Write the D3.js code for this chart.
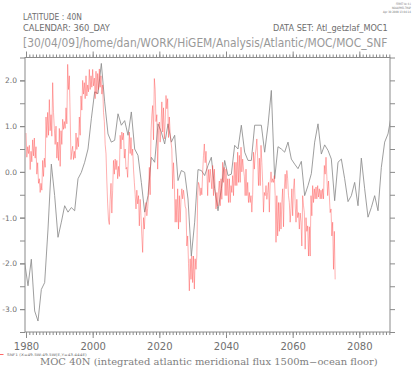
<!DOCTYPE html>
<html>
<head>
<meta charset="utf-8">
<script src="https://cdn.jsdelivr.net/npm/d3@7"></script>
<style>
  html, body { margin: 0; padding: 0; background: #fff; }
  svg { display: block; }
</style>
</head>
<body>
<svg id="chart" width="414" height="368" font-family="DejaVu Sans, sans-serif" fill="#6e6e6e"></svg>
<script>
// ---------------- data ----------------
// Annual series (gray), one value per year starting at grayStart
const grayStart = 1979.6;
const grayValues = [
  -1.98, -2.49, -1.91, -3.04, -3.26, -2.57, -2.42, -1.25, 0.17, -0.52,
  -1.43, -1.10, -0.74, -0.88, -0.78, -0.85, -0.15, -0.01, 0.21, 0.50,
  1.16, 1.75, 1.71, 2.37, 1.53, 0.83, 0.65, 0.69, 1.27, 1.02,
  1.12, 0.80, 1.31, 0.50, 0.36, -0.23, -0.88, -0.52, 0.32, 0.21,
  1.05, 0.87, 0.61, 1.05, 0.65, 0.80, -0.19, 0.03, -0.01, -0.59,
  -1.84, -1.10, 0.05, 0.03, -0.08, 0.14, 0.32, -0.37, -0.85, -0.37,
  0.25, -0.08, -0.05, 0.58, 0.50, 1.02, 0.43, 0.25, 0.25, 1.02,
  1.02, 1.02, 0.43, 1.02, 1.78, -0.15, 0.55, 0.50, 0.43, 0.65,
  0.28, 0.17, 0.07, 0.23, -0.52, -0.30, -0.04, 0.65, 1.05, 0.39,
  0.59, 0.47, 0.28, -0.63, 0.21, 0.28, -0.15, -0.65, -0.52, -0.23,
  -0.74, 0.30, -0.37, -0.99, -0.78, -0.52, -0.85, 0.10, 0.65, 0.83,
  1.24
];
// Quarterly series (red), four values per year starting 1980
const redStart = 1980;
const redPerYear = 4;
const redValues = [
  0.85, 0.32, 0.55, 0.40,   // 1980
  0.58, 0.05, 0.45, 0.22,
  0.70, 0.35, 0.74, 0.30,
  0.55, -0.05, 0.20, -0.25,
  -0.15, -0.45, -0.25, -0.40,
  0.25, -0.10, 0.30, 0.10,
  1.20, 0.75, 1.30, 0.80,
  1.58, 0.90, 1.25, 0.78,
  1.95, 1.30, 0.95, 0.60,
  1.00, 0.30, 0.65, 0.25,
  0.95, 0.12, 0.90, 0.60,   // 1990
  1.15, 0.93, 1.10, 0.95,
  1.40, 1.05, 2.35, 1.80,
  2.10, 1.22, 0.27, 0.45,
  0.56, 0.27, 0.45, 0.30,
  0.85, 0.49, 0.75, 0.55,
  1.20, 0.80, 1.66, 1.35,
  2.00, 1.70, 1.95, 1.60,
  2.10, 1.66, 1.90, 1.75,
  2.24, 1.80, 2.10, 1.85,
  2.24, 1.88, 2.05, 1.60,   // 2000
  2.20, 1.70, 2.15, 1.80,
  2.25, 1.85, 2.10, 1.70,
  1.90, 1.30, 1.10, 0.60,
  0.40, -0.20, -0.70, -1.05,
  -1.15, -0.60, -0.25, -0.90,
  -0.40, 0.25, -0.05, 0.28,
  0.05, 0.25, -0.15, 0.12,
  -0.10, 0.80, 0.50, 0.87,
  0.70, 0.85, 0.30, 0.50,
  0.06, 0.10, -0.12, 0.40,  // 2010
  0.87, 0.40, 0.75, 0.36,
  0.50, 0.06, -0.23, -0.50,
  -0.81, -0.40, -0.70, -0.52,
  -1.18, -0.60, -0.96, -1.40,
  -1.76, -1.00, -1.25, -0.88,
  -0.67, -0.96, -0.80, -0.50,
  0.10, -0.50, 0.87, 1.24,
  1.45, 0.70, 2.04, 1.80,
  1.10, 1.25, 0.06, 0.90,
  1.09, 0.65, 1.00, 1.53,   // 2020
  0.87, 1.40, 0.72, 1.09,
  1.67, 1.38, 1.60, 0.75,
  1.20, 0.85, 0.65, 0.50,
  -0.37, 0.20, -0.23, -1.10,
  -0.60, -1.10, -0.37, -1.25,
  -0.52, -1.10, -0.60, -0.37,
  -0.59, -0.40, -0.55, -0.75,
  -0.81, -1.62, -1.40, -2.00,
  -2.60, -1.90, -2.35, -1.84,
  -2.42, -1.84, -2.56, -1.90, // 2030
  -2.13, -1.84, -0.52, -0.23,
  -0.30, -0.52, -0.35, -0.50,
  0.00, 0.36, 0.61, 0.20,
  0.45, 0.06, -0.52, 0.05,
  -0.23, 0.06, -0.15, -0.37,
  0.14, -0.52, 0.06, -0.37,
  -0.81, -0.45, -0.75, -0.40,
  -0.20, -0.74, -0.15, -0.60,
  0.21, -0.23, 0.10, -0.52,
  0.06, -0.52, -0.15, -0.67, // 2040
  -0.15, -0.67, -0.30, -0.45,
  -0.08, -0.52, 0.21, -0.30,
  0.21, -0.30, 0.43, -0.23,
  0.36, -0.23, 0.54, 0.00,
  0.28, 0.06, -0.10, -0.52,
  0.06, -0.52, -0.23, -0.67,
  -0.45, -0.67, -0.52, -0.88,
  -0.50, 0.43, 0.06, 0.36,
  0.50, 0.72, 0.30, -0.30,
  0.30, -0.30, 0.58, 0.20,   // 2050
  -0.23, -0.88, -0.45, -0.52,
  -0.30, -0.60, -0.45, -0.23,
  -0.88, -0.23, 0.00, -0.23,
  -0.15, -0.23, -0.08, -0.52,
  -1.54, -0.52, -1.40, -0.67,
  -1.30, -0.67, -1.25, -0.67,
  -0.37, -1.20, -0.37, -0.05,
  -0.37, 0.03, -0.15, -0.52,
  -0.67, -1.10, -0.80, -0.37,
  -0.96, -0.37, -0.15, -0.70, // 2060
  -1.10, -0.60, -1.00, -0.89,
  -1.25, -0.90, -1.10, -1.62,
  -0.52, -0.74, -0.89, -1.69,
  -1.00, -1.30, -1.18, -1.84,
  -1.20, -1.84, -0.52, -0.96,
  -0.30, -0.67, -0.37, -0.59,
  -0.33, -0.59, -0.30, -0.55,
  -0.37, -0.59, -0.40, -0.59,
  -0.37, -0.59, 0.14, -0.05,
  0.32, -0.10, -0.52, -0.20,  // 2070
  -0.52, -0.89, -0.81, -1.40,
  -1.10, -2.13, -1.30, -2.35
];
const xMajorTicks = [1980, 2000, 2020, 2040, 2060, 2080];
const yMajorTicks = [-3, -2, -1, 0, 1, 2];
const headerLines = ["LATITUDE : 40N", "CALENDAR: 360_DAY"];
const datasetLabel = "DATA SET: Atl_getzlaf_MOC1";
const pathLabel = "[30/04/09]/home/dan/WORK/HiGEM/Analysis/Atlantic/MOC/MOC_SNF";
const ferretLines = ["FERRET Ver. 6.1", "NOAA/PMEL TMAP", "Apr 30 2009 13:04:14"];
const legendLabel = "SNF1 (X=49.5W:49.5W(E,Y=43.444E)";
const titleLabel = "MOC 40N (integrated atlantic meridional flux 1500m\u2212ocean floor)";

// ---------------- layout ----------------
const L = 25, R = 390, T = 57.5, B = 332;
const svg = d3.select("#chart");
const axisColor = "#8a8a8a";

const x = d3.scaleLinear().domain([1979.7, 2089.2]).range([L, R]);
const y = d3.scaleLinear().domain([-3.5, 2.5]).range([B, T]);

svg.append("rect").attr("width", 414).attr("height", 368).attr("fill", "#fff");

svg.append("clipPath").attr("id", "clip")
  .append("rect").attr("x", L).attr("y", T).attr("width", R - L).attr("height", B - T);

// series
const redData = redValues.map((v, i) => ({ t: redStart + i / redPerYear, v }));
const grayData = grayValues.map((v, i) => ({ t: grayStart + i, v }));
const line = d3.line().x(d => x(d.t)).y(d => y(d.v));

const plot = svg.append("g").attr("clip-path", "url(#clip)");
plot.append("path").datum(grayData).attr("d", line)
  .attr("fill", "none").attr("stroke", "#8c8c8c").attr("stroke-width", 0.85);
plot.append("path").datum(redData).attr("d", line)
  .attr("fill", "none").attr("stroke", "#ff4040").attr("stroke-opacity", 0.55)
  .attr("stroke-width", 0.75).attr("stroke-linejoin", "round");

function styleAxis(g) {
  g.attr("font-family", null).attr("font-size", null);
  g.selectAll("path.domain").remove();
  g.selectAll("line").attr("stroke", axisColor).attr("stroke-width", 1);
  g.selectAll("text").attr("fill", "#707070");
}
const years = d3.range(1980, 2090, 1);
const halves = d3.range(-3.5, 2.51, 0.5);

// bottom
svg.append("g").attr("transform", `translate(0,${B})`)
  .call(d3.axisBottom(x).tickValues(years).tickSize(3).tickFormat(""))
  .call(styleAxis);
svg.append("g").attr("transform", `translate(0,${B})`)
  .call(d3.axisBottom(x).tickValues(xMajorTicks).tickSize(6).tickPadding(5).tickFormat(d3.format("d")))
  .call(styleAxis)
  .call(g => g.selectAll("text").attr("font-size", 10));
// top
svg.append("g").attr("transform", `translate(0,${T})`)
  .call(d3.axisTop(x).tickValues(years).tickSize(3).tickFormat(""))
  .call(styleAxis);
svg.append("g").attr("transform", `translate(0,${T})`)
  .call(d3.axisTop(x).tickValues(xMajorTicks).tickSize(6).tickFormat(""))
  .call(styleAxis);
// left
svg.append("g").attr("transform", `translate(${L},0)`)
  .call(d3.axisLeft(y).tickValues(halves).tickSize(5).tickFormat(""))
  .call(styleAxis);
svg.append("g").attr("transform", `translate(${L},0)`)
  .call(d3.axisLeft(y).tickValues(yMajorTicks).tickSize(5).tickPadding(3).tickFormat(d => d.toFixed(1)))
  .call(styleAxis)
  .call(g => g.selectAll("text").attr("font-size", 7.5));
// right
svg.append("g").attr("transform", `translate(${R},0)`)
  .call(d3.axisRight(y).tickValues(halves).tickSize(5).tickFormat(""))
  .call(styleAxis);

// frame
svg.append("rect").attr("x", L).attr("y", T).attr("width", R - L).attr("height", B - T)
  .attr("fill", "none").attr("stroke", axisColor).attr("stroke-width", 1);

// texts: draw at natural size, then scale horizontally to the target width
function fitText(txt, xx, yy, size, len, family, color) {
  const g = svg.append("g");
  const t = g.append("text").attr("x", 0).attr("y", 0).attr("font-size", size).text(txt);
  if (family) t.attr("font-family", family);
  t.attr("fill", color || "#6e6e6e");
  const natural = t.node().getComputedTextLength();
  const k = len ? len / natural : 1;
  g.attr("transform", `translate(${xx},${yy}) scale(${k},1)`);
  return t;
}
fitText(headerLines[0], 23, 20, 8.5, 59);
fitText(headerLines[1], 23, 31, 8.5, 87);
fitText(datasetLabel, 273, 31, 8.5, 115);
fitText(pathLabel, 23, 47, 13, 365, null, "#999999");
ferretLines.forEach((s, i) => {
  const w = [15, 19, 28][i];
  fitText(s, 411 - w, 4.5 + i * 4, 3, w);
});

// legend
svg.append("line").attr("x1", 0).attr("x2", 3.5).attr("y1", 354.5).attr("y2", 354.5)
  .attr("stroke", "#ff4040").attr("stroke-width", 0.8);
fitText(legendLabel, 7, 356, 3.6, 80);

// title
fitText(titleLabel, 40, 364.5, 9, 338, "DejaVu Serif", "#7e7e7e");
</script>
</body>
</html>
